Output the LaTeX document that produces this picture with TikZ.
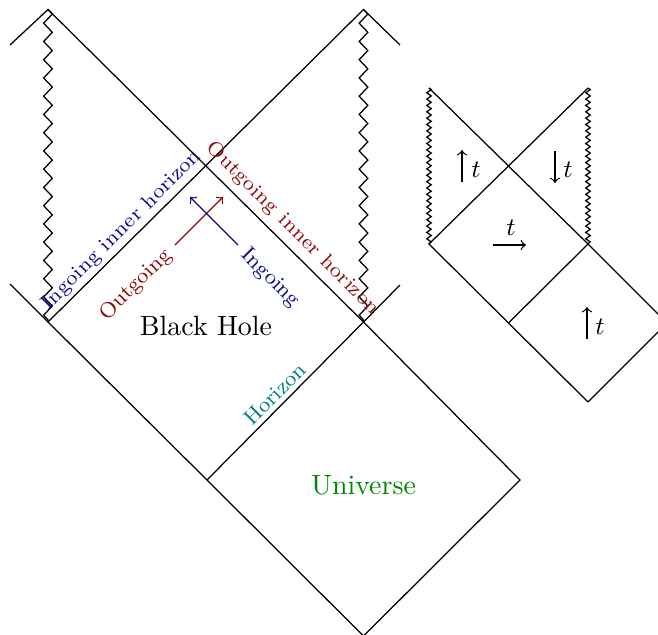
\documentclass[tikz,border=0pt]{standalone}
\usetikzlibrary{decorations.pathmorphing}
\definecolor{dred}{RGB}{140,10,10}
\definecolor{dblue}{RGB}{10,10,140}
\definecolor{hteal}{RGB}{0,128,128}
\definecolor{ugreen}{RGB}{0,135,0}
\begin{document}
\begin{tikzpicture}[x=0.0126cm,y=-0.0126cm,line width=0.45pt,
  bigzz/.style={decorate,decoration={zigzag,segment length=0.23cm,amplitude=0.055cm}},
  smallzz/.style={decorate,decoration={zigzag,segment length=0.08cm,amplitude=0.028cm}},
  lbl/.style={font=\fontsize{7.7}{9}\selectfont,inner sep=0pt},
  longlbl/.style={font=\fontsize{7.3}{9}\selectfont,inner sep=0pt},
  big/.style={font=\fontsize{10}{12}\selectfont,inner sep=0pt},
  tlbl/.style={font=\fontsize{9}{11}\selectfont,inner sep=0pt},
  flow/.style={->},
  tarrow/.style={->}]
\useasboundingbox (0,0) rectangle (658,635);
\clip (0,0) rectangle (658,635);
% big diagram points
\coordinate (A) at (48,9.5);
\coordinate (B) at (363.5,9.5);
\coordinate (D) at (48,322);
\coordinate (E) at (363.5,322);
\coordinate (C) at (205.75,165.75);
\coordinate (F) at (207,480);
\coordinate (G) at (520,480);
\coordinate (H) at (363.5,636);
\coordinate (sA) at (10,45);
\coordinate (sB) at (400,45);
\coordinate (sD) at (10,284);
\coordinate (sE) at (400,285);
% big diagram lines
\draw (sA) -- (A) -- (C) -- (E) -- (G) -- (H);
\draw (sB) -- (B) -- (C) -- (D);
\draw (sD) -- (D) -- (F) -- (H);
\draw (sE) -- (E) -- (F);
\draw[bigzz] (A) -- (D);
\draw[bigzz] (B) -- (E);
% arrows
\coordinate (ro1) at (175,245);
\coordinate (ro2) at (223,197);
\coordinate (bi1) at (238,245);
\coordinate (bi2) at (190,197);
\draw[flow,dred] (ro1) -- (ro2);
\draw[flow,dblue] (bi1) -- (bi2);
% labels
\node[longlbl,dblue,rotate=45] (lii) at (121.5,230.5) {Ingoing inner horizon};
\node[longlbl,dred,rotate=-45] (loi) at (292.5,228.5) {Outgoing inner horizon};
\node[lbl,hteal,rotate=45] (lh) at (275,394) {Horizon};
\node[lbl,dred,rotate=45] (lo) at (136,285) {Outgoing};
\node[lbl,dblue,rotate=-45] (li) at (270,278) {Ingoing};
\node[big] (bh) at (206,326) {Black Hole};
\node[big,ugreen] (un) at (363.5,485) {Universe};
% small diagram
\coordinate (a) at (429,88);
\coordinate (b) at (588,88);
\coordinate (c) at (508.5,166);
\coordinate (d) at (429,244);
\coordinate (e) at (588,244);
\coordinate (f) at (508.5,323);
\coordinate (g) at (667,323);
\coordinate (h) at (588,402);
\draw (a) -- (c) -- (e) -- (g) -- (h);
\draw (b) -- (c) -- (d) -- (f) -- (h);
\draw (f) -- (e);
\draw[smallzz] (a) -- (d);
\draw[smallzz] (b) -- (e);
% time arrows
\coordinate (t1a) at (462,182); \coordinate (t1b) at (462,150);
\coordinate (t2a) at (555,151); \coordinate (t2b) at (555,183);
\coordinate (t3a) at (493,245); \coordinate (t3b) at (526,245);
\coordinate (t4a) at (587,339); \coordinate (t4b) at (587,307);
\draw[tarrow] (t1a) -- (t1b);
\draw[tarrow] (t2a) -- (t2b);
\draw[tarrow] (t3a) -- (t3b);
\draw[tarrow] (t4a) -- (t4b);
\node[tlbl] (tt1) at (476,170) {$t$};
\node[tlbl] (tt2) at (568,170) {$t$};
\node[tlbl] (tt3) at (511,228) {$t$};
\node[tlbl] (tt4) at (600,327) {$t$};
\end{tikzpicture}
\end{document}
